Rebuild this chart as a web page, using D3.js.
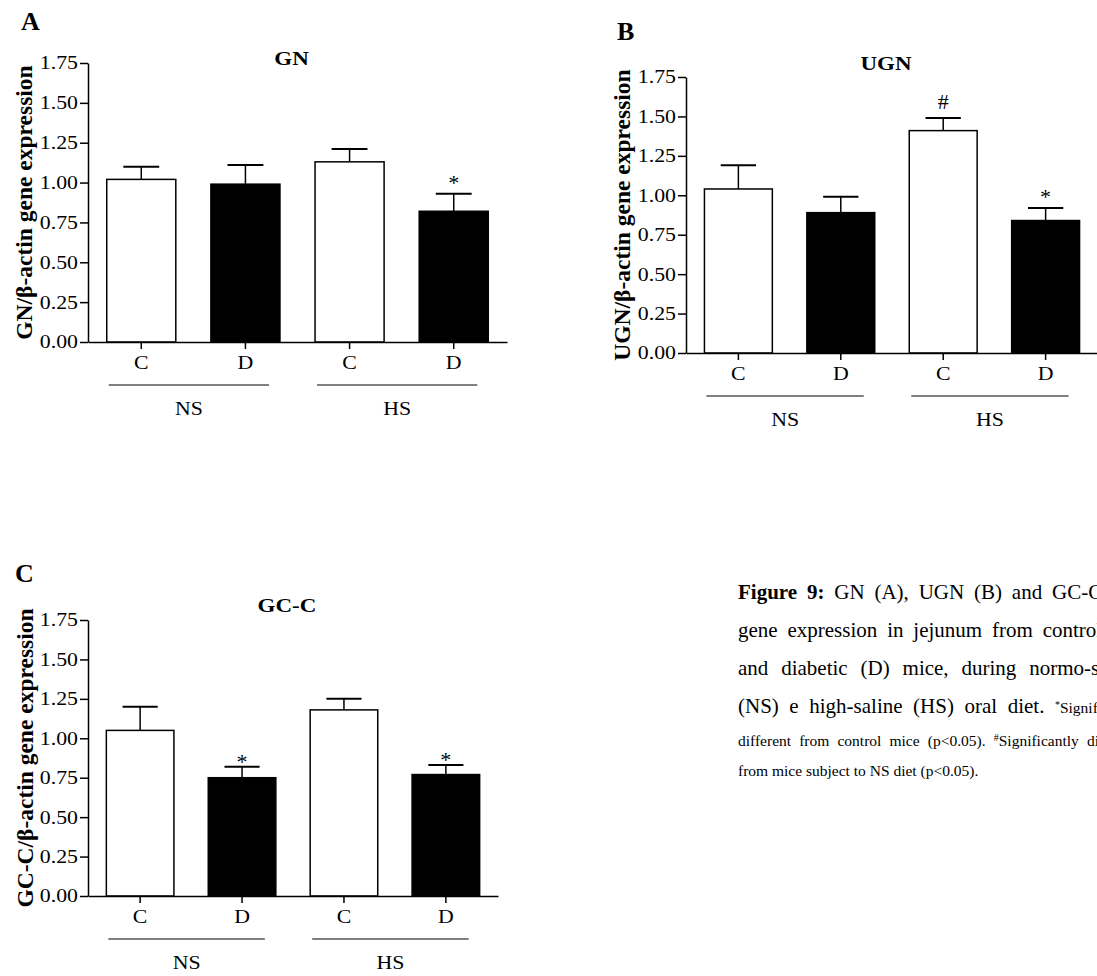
<!DOCTYPE html>
<html lang="en">

<head>
    <meta charset="UTF-8">
    <title>Figure 9</title>
    <script src="https://cdn.jsdelivr.net/npm/d3@7"></script>
    <style>
        body { margin: 0; background: #fff; }
        svg { display: block; font-family: "Liberation Serif", "Times New Roman", serif; }
    </style>
</head>

<body>
</body>
<script>
    // values (mean and SEM of each bar)
    const groups = ["C", "D", "C", "D"];
    const diets = ["NS", "HS"];
    const yTicks = [0, 0.25, 0.5, 0.75, 1, 1.25, 1.5, 1.75];

    const gnMean = [1.02, 0.99, 1.13, 0.82];
    const gnSem = [0.08, 0.12, 0.08, 0.11];
    const gnMarks = ["", "", "", "*"];

    const ugnMean = [1.04, 0.89, 1.41, 0.84];
    const ugnSem = [0.15, 0.10, 0.08, 0.08];
    const ugnMarks = ["", "", "#", "*"];

    const gccMean = [1.05, 0.75, 1.18, 0.77];
    const gccSem = [0.15, 0.07, 0.07, 0.06];
    const gccMarks = ["", "*", "", "*"];

    const width = 1097, height = 976;
    const sx = 1.18; //the figure text is a bit stretched sideways
    const tickSize = 18.5;

    const svg = d3.select("body").append("svg")
        .attr("width", width)
        .attr("height", height);

    svg.append("rect").attr("width", width).attr("height", height).attr("fill", "#fff");

    // panel layout (pixel boxes of each plot)
    const panels = [
        { letter: "A", title: "GN", ylab: "GN/\u03b2-actin gene expression", mean: gnMean, sem: gnSem, marks: gnMarks,
          left: 88, right: 507, top: 63, bottom: 342, lx: 21, ly: 30, labx: 32, titleY: 65, gap: 16 },
        { letter: "B", title: "UGN", ylab: "UGN/\u03b2-actin gene expression", mean: ugnMean, sem: ugnSem, marks: ugnMarks,
          left: 686, right: 1098, top: 77, bottom: 353, lx: 617, ly: 40, labx: 630, titleY: 70, gap: 16 },
        { letter: "C", title: "GC-C", ylab: "GC-C/\u03b2-actin gene expression", mean: gccMean, sem: gccSem, marks: gccMarks,
          left: 88, right: 498, top: 620, bottom: 896, lx: 15, ly: 582, labx: 33, titleY: 612, gap: 10 }
    ];

    panels.forEach(drawPanel);

    function drawPanel(p) {
        const x = d3.scaleBand()
            .domain(d3.range(groups.length))
            .range([p.left, p.right])
            .paddingInner(0.337)
            .paddingOuter(0.18);
        const y = d3.scaleLinear().domain([0, 1.75]).range([p.bottom, p.top]);
        const g = svg.append("g");

        //panel letter
        g.append("text")
            .attr("x", p.lx).attr("y", p.ly)
            .attr("font-size", 26).attr("font-weight", "bold")
            .text(p.letter);

        //title
        g.append("text")
            .attr("transform", `translate(${(p.left + p.right) / 2 - 6},${p.titleY}) scale(${sx},1)`)
            .attr("text-anchor", "middle")
            .attr("font-size", 19.5).attr("font-weight", "bold")
            .text(p.title);

        //y label
        g.append("text")
            .attr("transform", `translate(${p.labx},${(p.top + p.bottom) / 2}) rotate(-90)`)
            .attr("text-anchor", "middle")
            .attr("font-size", 23.5).attr("font-weight", "bold")
            .text(p.ylab);

        //bars
        g.selectAll(".bar")
            .data(p.mean)
            .join("rect")
            .attr("x", (d, i) => x(i))
            .attr("y", d => y(d))
            .attr("width", x.bandwidth())
            .attr("height", d => y(0) - y(d))
            .attr("fill", (d, i) => groups[i] === "D" ? "#000" : "#fff")
            .attr("stroke", "#000")
            .attr("stroke-width", 1.5);

        //error bars, upper half only
        const cap = x.bandwidth() * 0.52;
        p.mean.forEach((m, i) => {
            const cx = x(i) + x.bandwidth() / 2;
            const top = y(m + p.sem[i]);
            g.append("line").attr("x1", cx).attr("x2", cx).attr("y1", y(m)).attr("y2", top)
                .attr("stroke", "#000").attr("stroke-width", 1.5);
            g.append("line").attr("x1", cx - cap / 2).attr("x2", cx + cap / 2).attr("y1", top).attr("y2", top)
                .attr("stroke", "#000").attr("stroke-width", 2);
            const mk = p.marks[i];
            if (mk) {
                g.append("text")
                    .attr("x", cx)
                    .attr("y", top - p.gap + (mk === "*" ? 12 : 7))
                    .attr("text-anchor", "middle")
                    .attr("font-size", 22)
                    .text(mk);
            }
        });

        //axes
        const yAxis = g.append("g")
            .attr("transform", `translate(${p.left},0)`)
            .call(d3.axisLeft(y).tickValues(yTicks).tickFormat(d3.format(".2f")).tickSize(8).tickSizeOuter(0));
        yAxis.selectAll("text")
            .attr("font-size", tickSize)
            .attr("x", -10 / sx)
            .attr("transform", `scale(${sx},1)`);

        const xAxis = g.append("g")
            .attr("transform", `translate(0,${p.bottom})`)
            .call(d3.axisBottom(x).tickFormat(i => groups[i]).tickSize(7).tickSizeOuter(0));
        xAxis.selectAll("text")
            .attr("font-size", tickSize)
            .attr("y", 14)
            .attr("transform", `scale(${sx},1)`);

        [yAxis, xAxis].forEach(a => {
            a.attr("font-family", null);
            a.select(".domain").attr("stroke-width", 1.5);
            a.selectAll(".tick line").attr("stroke-width", 1.5);
            a.selectAll("text").attr("fill", "#000");
        });

        //diet group lines
        diets.forEach((dname, k) => {
            const x1 = x(2 * k) + 2;
            const x2 = x(2 * k + 1) + x.bandwidth() - 11;
            g.append("line").attr("x1", x1).attr("x2", x2)
                .attr("y1", p.bottom + 43).attr("y2", p.bottom + 43)
                .attr("stroke", "#000").attr("stroke-width", 1.2);
            g.append("text")
                .attr("transform", `translate(${(x1 + x2) / 2},${p.bottom + 73}) scale(${sx},1)`)
                .attr("text-anchor", "middle")
                .attr("font-size", tickSize)
                .text(dname);
        });
    }

    // caption, justified lines running off the right edge as in the source page
    const capLeft = 738, capRight = 1140;
    const capLines = [
        { y: 599, size: 21, justify: true, parts: [["Figure 9:", "bold"], [" GN (A), UGN (B) and GC-C (C)"]] },
        { y: 637, size: 21, justify: true, parts: [["gene expression in jejunum from control (C)"]] },
        { y: 675, size: 21, justify: true, parts: [["and diabetic (D) mice, during normo-saline"]] },
        { y: 713, size: 21, justify: true, parts: [["(NS) e high-saline (HS) oral diet. "], ["*", "sup"], ["Significantly", "small"]] },
        { y: 746, size: 15.5, justify: true, parts: [["different from control mice (p<0.05). "], ["#", "sup"], ["Significantly different"]] },
        { y: 776, size: 15.5, justify: false, parts: [["from mice subject to NS diet (p<0.05)."]] }
    ];

    capLines.forEach(l => {
        const t = svg.append("text")
            .attr("x", capLeft).attr("y", l.y)
            .attr("font-size", l.size)
            .attr("xml:space", "preserve");
        l.parts.forEach(([s, kind]) => {
            const ts = t.append("tspan").text(s);
            if (kind === "bold") ts.attr("font-weight", "bold");
            if (kind === "sup") ts.attr("font-size", 10).attr("baseline-shift", "55%");
            if (kind === "small") ts.attr("font-size", 15.5);
        });
        if (l.justify) {
            const len = t.node().getComputedTextLength();
            const spaces = l.parts.map(d => d[0]).join("").split(" ").length - 1;
            t.attr("word-spacing", (capRight - capLeft - len) / spaces);
        }
    });
</script>

</html>
